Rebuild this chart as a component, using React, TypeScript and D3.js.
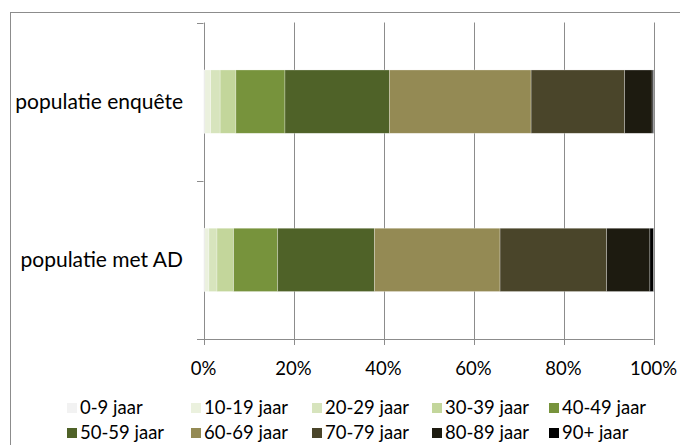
import * as d3 from 'd3';

const categories = ['populatie enquête', 'populatie met AD'];
const ageGroups = [
  '0-9 jaar', '10-19 jaar', '20-29 jaar', '30-39 jaar', '40-49 jaar',
  '50-59 jaar', '60-69 jaar', '70-79 jaar', '80-89 jaar', '90+ jaar',
];
// percentage share per age group
const enqueteValues = [0.3, 1.3, 2.1, 3.5, 10.9, 23.2, 31.5, 20.8, 6.1, 0.3];
const adValues = [0.3, 0.9, 1.8, 3.7, 9.8, 21.5, 27.9, 23.7, 9.6, 0.8];
const xTicks = [0, 0.2, 0.4, 0.6, 0.8, 1];

const COLORS = [
  '#F2F2F2', '#EBF1DE', '#D7E4BD', '#C3D69B', '#77933C',
  '#4F6228', '#948A54', '#4A452A', '#1D1B10', '#000000',
];

const W = 680;
const H = 445;
const FONT = 'Lato, "Open Sans", sans-serif';
const GRID = '#8c8c8c';

export default function App() {
  const rows = categories.map((name, i) => {
    const vals = i === 0 ? enqueteValues : adValues;
    const row: Record<string, any> = { name };
    ageGroups.forEach((g, j) => (row[g] = vals[j]));
    return row;
  });

  const series = d3.stack<any>().keys(ageGroups).offset(d3.stackOffsetExpand)(rows);

  const margin = { top: 22.5, left: 203.5, right: 26.5, bottom: 106 };
  const x = d3.scaleLinear().domain([0, 1]).range([margin.left, W - margin.right]);
  const y = d3.scaleBand<string>()
    .domain(categories)
    .range([margin.top, H - margin.bottom])
    .paddingInner(0.6)
    .paddingOuter(0.3);
  const yBand = d3.scaleBand<string>().domain(categories).range([margin.top, H - margin.bottom]);
  const bottom = H - margin.bottom;
  const fmt = d3.format('.0%');

  // legend layout: 5 columns, 2 rows
  const legendX = [67, 191, 312, 432, 549];
  const legendY = [408, 433];

  return (
    <svg width={W} height={H} style={{ position: 'fixed', left: 0, top: 0, background: '#fff' }}>
      <rect x={10.5} y={12.5} width={W} height={H} fill="#fff" stroke={GRID} strokeWidth={1} />

      {/* vertical gridlines */}
      {xTicks.map((t) => (
        <line key={t} x1={Math.round(x(t)) + 0.5} x2={Math.round(x(t)) + 0.5} y1={margin.top} y2={bottom + 6} stroke={GRID} />
      ))}
      {/* y axis ticks (category boundaries) */}
      {[margin.top, ...categories.map((c) => (yBand(c) as number) + yBand.bandwidth())].map((v, i) => (
        <line key={i} x1={x(0) - 6.5} x2={x(0)} y1={Math.round(v) + 0.5} y2={Math.round(v) + 0.5} stroke={GRID} />
      ))}
      <line x1={x(0) - 6.5} x2={x(1)} y1={Math.round(bottom) + 0.5} y2={Math.round(bottom) + 0.5} stroke={GRID} />

      {/* stacked bars */}
      {series.map((s, i) => (
        <g key={s.key} fill={COLORS[i]}>
          {s.map((d: any) => (
            <rect
              key={d.data.name}
              x={x(d[0])}
              y={y(d.data.name)}
              width={x(d[1]) - x(d[0])}
              height={y.bandwidth()}
              stroke="#ffffff"
              strokeOpacity={0.45}
              strokeWidth={0.6}
            />
          ))}
        </g>
      ))}

      {/* category labels */}
      {categories.map((c) => (
        <text
          key={c}
          x={x(0) - 20.5}
          y={(y(c) as number) + y.bandwidth() / 2}
          dy="0.35em"
          textAnchor="end"
          fontFamily={FONT}
          fontSize={21}
          fill="#000"
        >
          {c}
        </text>
      ))}

      {/* x tick labels */}
      {xTicks.map((t) => (
        <text key={t} x={x(t)} y={375} textAnchor="middle" fontFamily={FONT} fontSize={18.5} fill="#000">
          {fmt(t)}
        </text>
      ))}

      {/* legend */}
      {ageGroups.map((g, i) => {
        const col = i % 5;
        const row = Math.floor(i / 5);
        const lx = legendX[col];
        const ly = legendY[row];
        return (
          <g key={g}>
            <rect x={lx} y={ly - 5} width={10} height={10} fill={COLORS[i]} />
            <text x={lx + 13} y={ly} dy="0.35em" fontFamily={FONT} fontSize={18.5} fill="#000">
              {g}
            </text>
          </g>
        );
      })}
    </svg>
  );
}
